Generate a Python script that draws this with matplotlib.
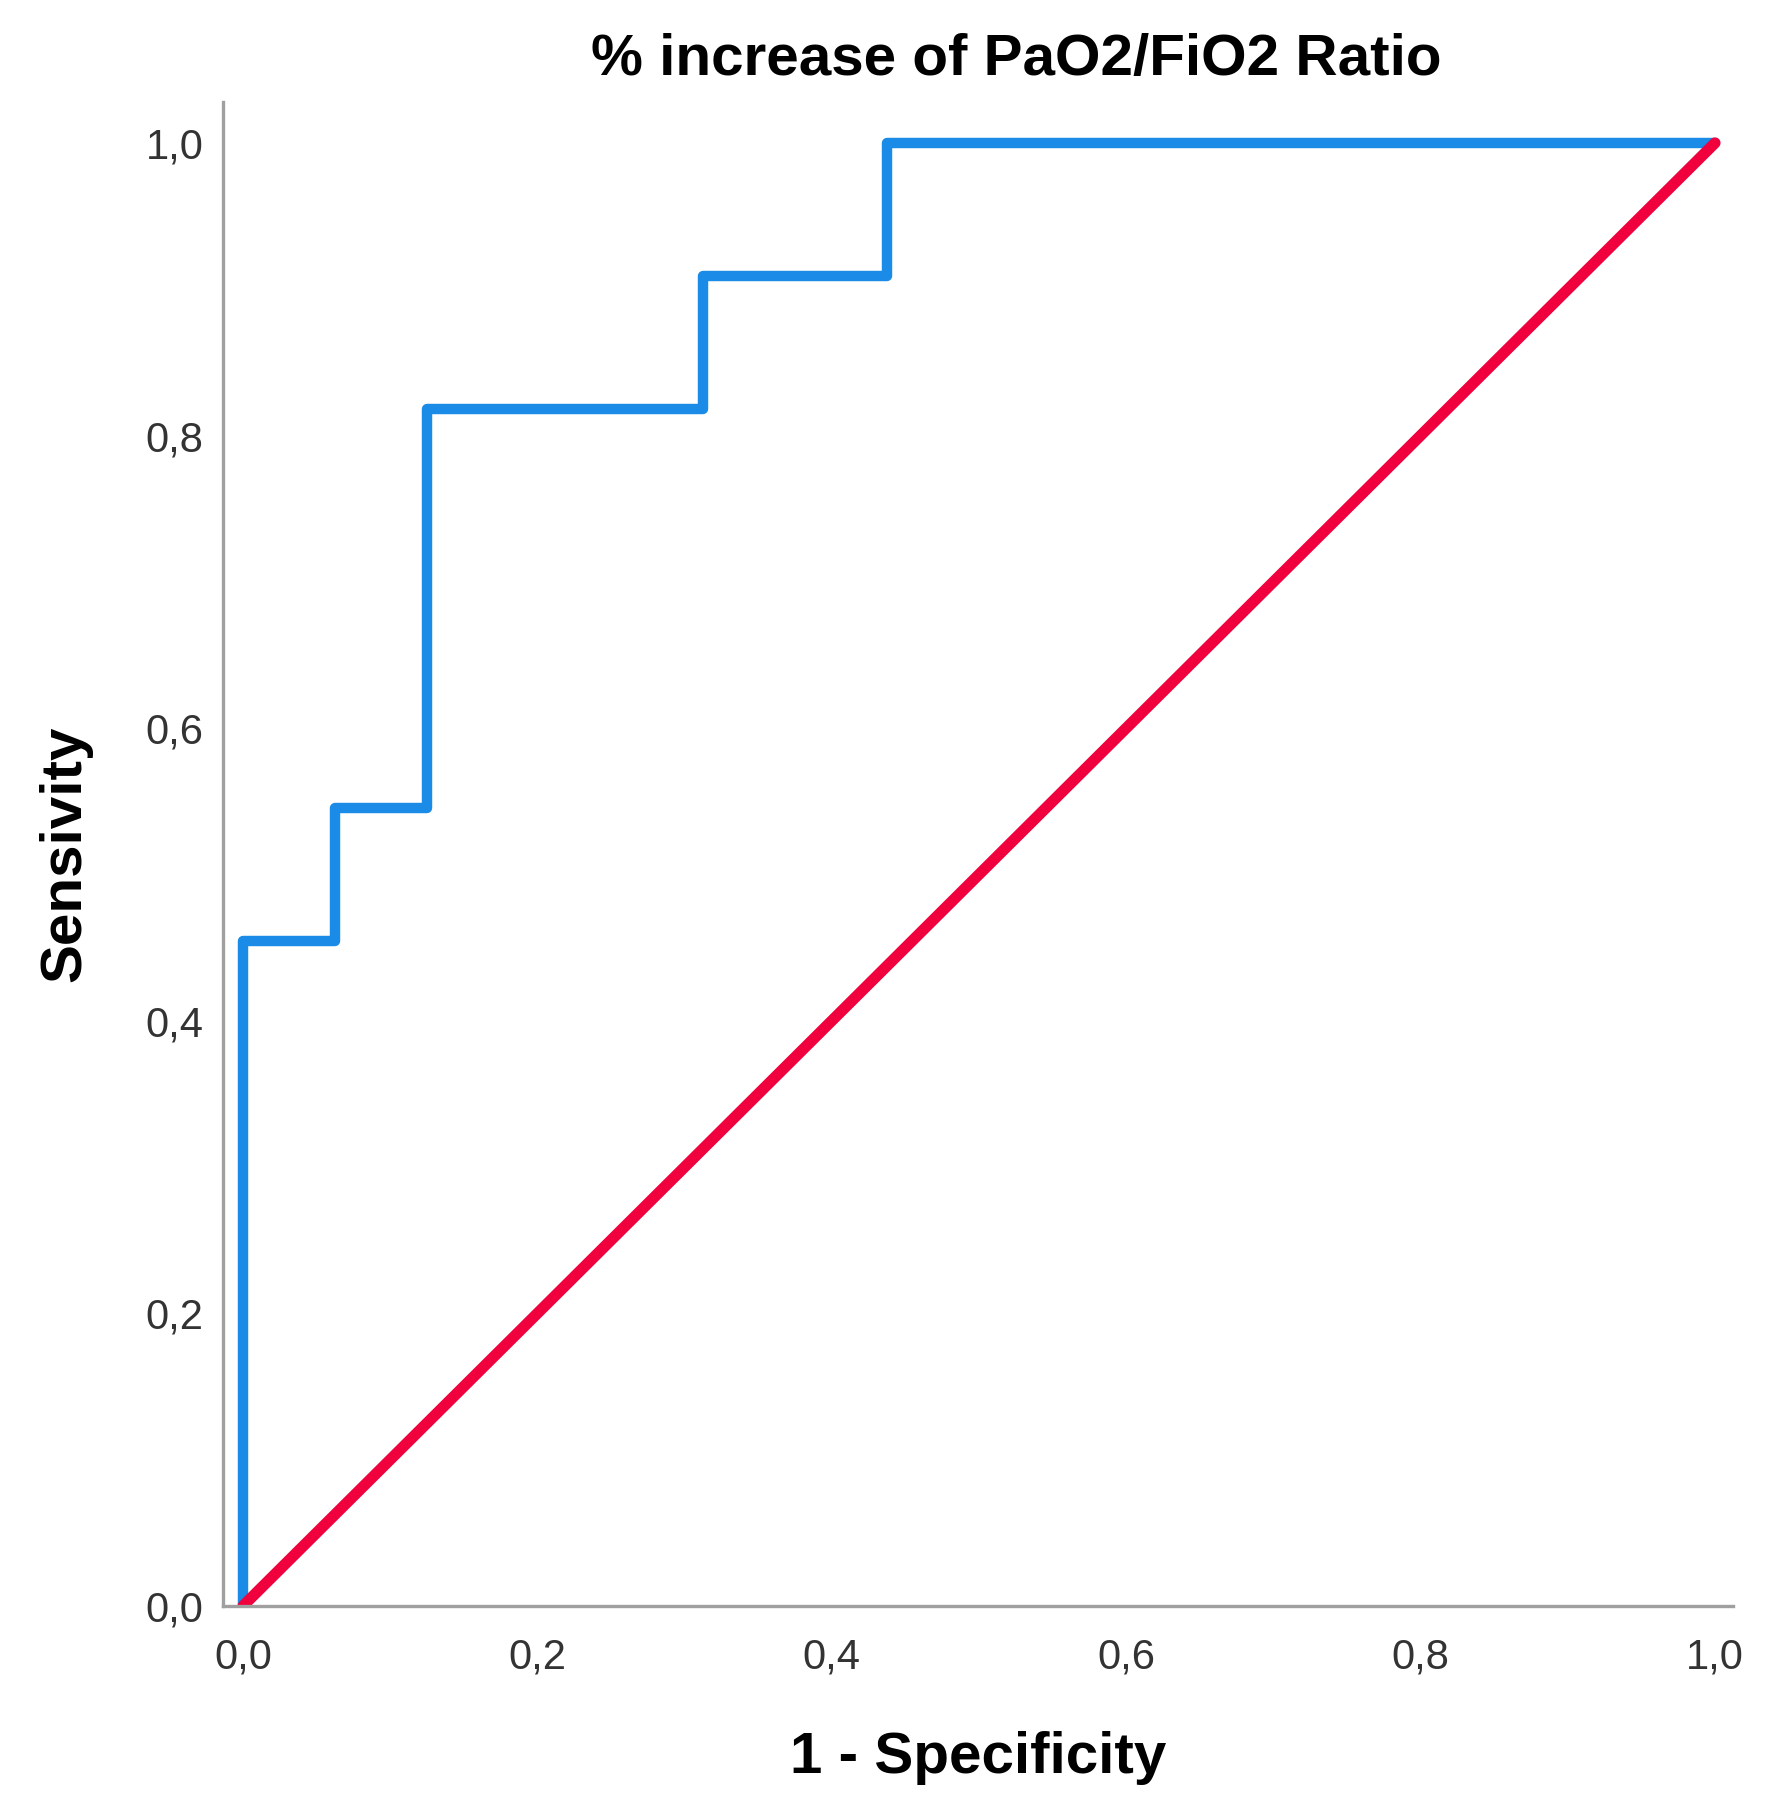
import matplotlib
matplotlib.use("Agg")
import matplotlib.pyplot as plt
from matplotlib.ticker import FuncFormatter

# ROC curve points (1 - specificity, sensitivity)
fpr = [0.0, 0.0, 0.0625, 0.0625, 0.125, 0.125, 0.3125, 0.3125, 0.4375, 0.4375, 1.0]
tpr = [0.0, 0.4545, 0.4545, 0.5455, 0.5455, 0.8182, 0.8182, 0.9091, 0.9091, 1.0, 1.0]
ref_x = [0.0, 1.0]
ref_y = [0.0, 1.0]
ticks = [0.0, 0.2, 0.4, 0.6, 0.8, 1.0]

plt.rcParams["font.family"] = ["Liberation Sans", "DejaVu Sans"]

fig = plt.figure(figsize=(17.68, 18.11), dpi=100)
ax = fig.add_axes([0.1261, 0.1132, 0.8541, 0.8305])

# roc curve, then the reference diagonal on top
ax.plot(fpr, tpr, color="#1a8be6", linewidth=7.5, solid_joinstyle="round",
        solid_capstyle="butt")
ax.plot(ref_x, ref_y, color="#f0003c", linewidth=8, solid_capstyle="round")

ax.set_xlim(-0.0136, 1.0122)
ax.set_ylim(0, 1.028)
ax.set_xticks(ticks)
ax.set_yticks(ticks)
fmt = FuncFormatter(lambda v, p: ("%.1f" % v).replace(".", ","))
ax.xaxis.set_major_formatter(fmt)
ax.yaxis.set_major_formatter(fmt)
ax.tick_params(axis="both", length=0, labelsize=30, labelcolor="#333333")
ax.tick_params(axis="x", pad=23)
ax.tick_params(axis="y", pad=14)

for s in ["top", "right"]:
    ax.spines[s].set_visible(False)
for s in ["left", "bottom"]:
    ax.spines[s].set_color("#a0a0a0")
    ax.spines[s].set_linewidth(2.4)

ax.set_xlabel("1 - Specificity", fontsize=42, fontweight="bold", labelpad=38)
ax.set_ylabel("Sensivity", fontsize=42, fontweight="bold", labelpad=38)
fig.text(0.575, 0.967, "% increase of PaO2/FiO2 Ratio", fontsize=42,
         fontweight="bold", ha="center", va="center")

fig.savefig("out.png", dpi=100, facecolor="white")
